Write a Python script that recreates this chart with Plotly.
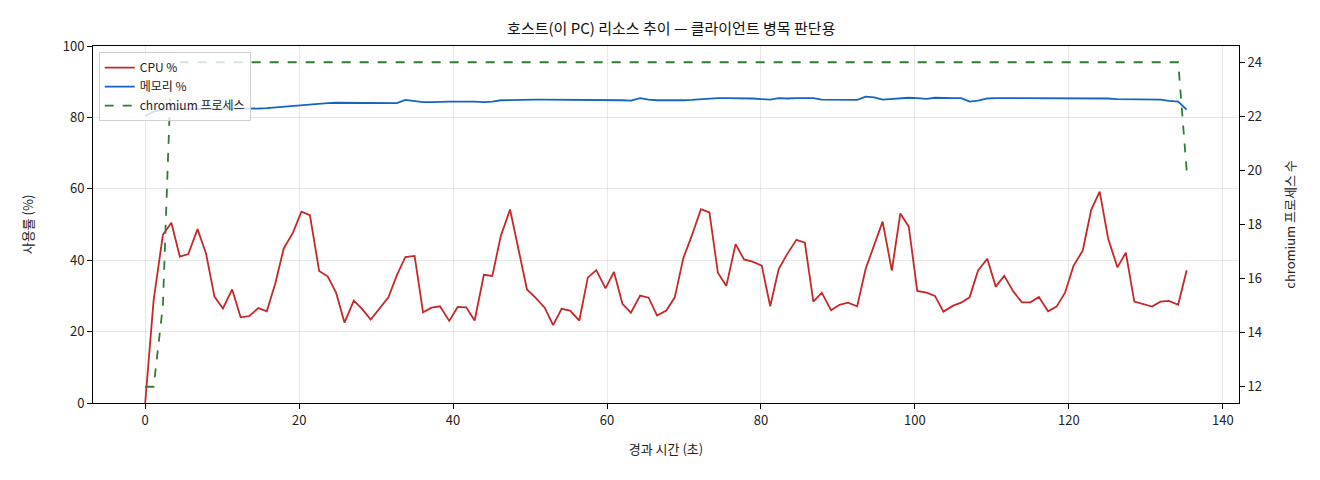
import plotly.graph_objects as go

# 경과 시간 (초)
elapsed = [0.0, 1.1, 2.3, 3.4, 4.5, 5.6, 6.8, 7.9, 9.0, 10.1,
           11.3, 12.4, 13.5, 14.7, 15.8, 16.9, 18.0, 19.2, 20.3, 21.4,
           22.6, 23.7, 24.8, 25.9, 27.1, 28.2, 29.3, 30.4, 31.6, 32.7,
           33.8, 35.0, 36.1, 37.2, 38.3, 39.5, 40.6, 41.7, 42.8, 44.0,
           45.1, 46.2, 47.4, 48.5, 49.6, 50.7, 51.9, 53.0, 54.1, 55.2,
           56.4, 57.5, 58.6, 59.8, 60.9, 62.0, 63.1, 64.3, 65.4, 66.5,
           67.7, 68.8, 69.9, 71.0, 72.2, 73.3, 74.4, 75.5, 76.7, 77.8,
           78.9, 80.1, 81.2, 82.3, 83.4, 84.6, 85.7, 86.8, 87.9, 89.1,
           90.2, 91.3, 92.5, 93.6, 94.7, 95.8, 97.0, 98.1, 99.2, 100.3,
           101.5, 102.6, 103.7, 104.9, 106.0, 107.1, 108.2, 109.4, 110.5, 111.6,
           112.8, 113.9, 115.0, 116.1, 117.3, 118.4, 119.5, 120.6, 121.8, 122.9,
           124.0, 125.1, 126.3, 127.4, 128.5, 129.6, 130.8, 131.9, 133.0, 134.2,
           135.3]

cpu = [0.0, 28.9, 47.1, 50.5, 41.0, 41.7, 48.7, 41.9, 29.8, 26.5,
       31.8, 24.0, 24.3, 26.6, 25.7, 33.5, 43.3, 47.7, 53.6, 52.6,
       37.0, 35.5, 30.9, 22.5, 28.7, 26.3, 23.4, 26.3, 29.6, 35.8,
       40.9, 41.2, 25.4, 26.7, 27.1, 23.0, 26.9, 26.8, 23.1, 35.9,
       35.6, 46.8, 54.2, 43.0, 31.8, 29.5, 26.7, 21.8, 26.4, 25.9,
       23.1, 35.1, 37.2, 32.1, 36.7, 27.8, 25.3, 30.1, 29.5, 24.5,
       25.9, 29.6, 40.5, 46.8, 54.3, 53.4, 36.5, 32.8, 44.5, 40.2,
       39.6, 38.5, 27.1, 37.5, 41.7, 45.7, 44.9, 28.4, 30.9, 26.0,
       27.5, 28.1, 27.1, 37.6, 44.3, 50.8, 37.1, 53.1, 49.4, 31.4,
       30.9, 30.0, 25.6, 27.2, 28.1, 29.6, 37.1, 40.4, 32.6, 35.6,
       31.2, 28.2, 28.2, 29.7, 25.7, 27.0, 30.9, 38.4, 42.7, 54.1,
       59.2, 46.1, 38.0, 42.1, 28.4, 27.7, 27.0, 28.4, 28.6, 27.5,
       37.2]

memory = [80.3, 81.6, 82.2, 82.3, 82.3, 82.3, 82.3, 82.3, 82.3, 82.3,
          82.3, 82.4, 82.4, 82.5, 82.6, 82.8, 83.0, 83.2, 83.4, 83.7,
          83.9, 84.0, 84.1, 84.1, 84.1, 84.1, 84.0, 83.9, 83.9, 84.0,
          84.9, 84.6, 84.3, 84.3, 84.4, 84.4, 84.4, 84.5, 84.4, 84.3,
          84.4, 84.8, 84.9, 85.0, 85.0, 85.0, 85.0, 85.0, 84.9, 84.8,
          84.8, 84.9, 85.0, 85.0, 84.8, 84.8, 84.7, 85.4, 85.0, 84.8,
          84.8, 84.7, 84.8, 84.9, 85.1, 85.3, 85.4, 85.4, 85.4, 85.4,
          85.3, 85.1, 85.0, 85.4, 85.3, 85.4, 85.3, 85.4, 85.0, 85.0,
          85.0, 84.9, 84.9, 85.8, 85.6, 85.0, 85.2, 85.3, 85.5, 85.4,
          85.2, 85.5, 85.4, 85.4, 85.4, 84.4, 84.7, 85.3, 85.4, 85.4,
          85.5, 85.5, 85.5, 85.5, 85.5, 85.5, 85.4, 85.5, 85.5, 85.5,
          85.5, 85.3, 85.1, 85.1, 85.1, 84.9, 84.9, 85.0, 84.6, 84.4,
          82.2]

chromium = [12, 12, 15, 24, 24, 24, 24, 24, 24, 24,
            24, 24, 24, 24, 24, 24, 24, 24, 24, 24,
            24, 24, 24, 24, 24, 24, 24, 24, 24, 24,
            24, 24, 24, 24, 24, 24, 24, 24, 24, 24,
            24, 24, 24, 24, 24, 24, 24, 24, 24, 24,
            24, 24, 24, 24, 24, 24, 24, 24, 24, 24,
            24, 24, 24, 24, 24, 24, 24, 24, 24, 24,
            24, 24, 24, 24, 24, 24, 24, 24, 24, 24,
            24, 24, 24, 24, 24, 24, 24, 24, 24, 24,
            24, 24, 24, 24, 24, 24, 24, 24, 24, 24,
            24, 24, 24, 24, 24, 24, 24, 24, 24, 24,
            24, 24, 24, 24, 24, 24, 24, 24, 24, 24,
            20]

FONT = "Noto Sans CJK KR, Noto Sans, sans-serif"

fig = go.Figure()
fig.add_trace(go.Scatter(x=elapsed, y=cpu, name="CPU %", mode="lines",
                         line=dict(color="#c62828", width=1.8)))
fig.add_trace(go.Scatter(x=elapsed, y=memory, name="메모리 %", mode="lines",
                         line=dict(color="#1565c0", width=1.8)))
fig.add_trace(go.Scatter(x=elapsed, y=chromium, name="chromium 프로세스", mode="lines",
                         yaxis="y2",
                         line=dict(color="#2e7d32", width=1.8, dash="dash")))

axis_common = dict(showline=True, linecolor="black", linewidth=1,
                   ticks="outside", ticklen=5, tickcolor="black",
                   tickfont=dict(size=13, color="#222"), zeroline=False)

# the page body has an 8px margin, so the figure is a bit smaller than the window
fig.update_layout(
    width=1304, height=464,
    margin=dict(l=85, r=73, t=38, b=69),
    paper_bgcolor="white", plot_bgcolor="white",
    font=dict(family=FONT, color="#222"),
    title=dict(text="호스트(이 PC) 리소스 추이 — 클라이언트 병목 판단용",
               x=(85 + 1304 - 73) / 2 / 1304, xref="paper", xanchor="center",
               y=1 - 21 / 464, yanchor="middle", font=dict(size=15, color="#111")),
    xaxis=dict(range=[-6.78, 142.1], tickmode="array",
               tickvals=[0, 20, 40, 60, 80, 100, 120, 140],
               showgrid=True, gridcolor="rgba(0,0,0,0.09)", mirror=True,
               title=dict(text="경과 시간 (초)", font=dict(size=13), standoff=17),
               **axis_common),
    yaxis=dict(range=[0, 100], tickmode="array",
               tickvals=[0, 20, 40, 60, 80, 100],
               showgrid=True, gridcolor="rgba(0,0,0,0.09)", mirror=True,
               title=dict(text="사용률 (%)", font=dict(size=13), standoff=26),
               **axis_common),
    yaxis2=dict(range=[11.4, 24.6], overlaying="y", side="right",
                tickmode="array", tickvals=[12, 14, 16, 18, 20, 22, 24],
                showgrid=False,
                title=dict(text="chromium 프로세스 수", font=dict(size=13), standoff=24),
                **axis_common),
    legend=dict(x=0.005, y=0.983, xanchor="left", yanchor="top",
                bgcolor="rgba(255,255,255,0.8)", bordercolor="#d0d0d0",
                borderwidth=1, font=dict(size=12, color="#222"),
                tracegroupgap=4),
    showlegend=True,
)

fig.write_html("out.html")
